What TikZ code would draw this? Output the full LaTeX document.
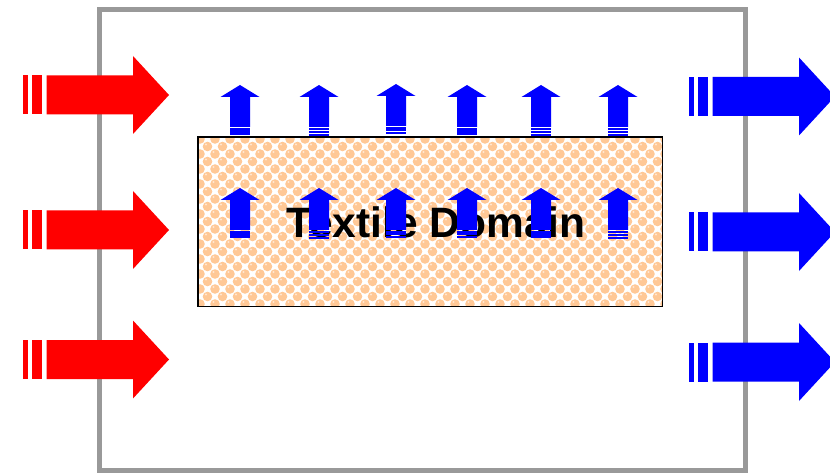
\documentclass[tikz,border=0pt]{standalone}
\usepackage{fontspec}
\setmainfont{Liberation Sans}
\definecolor{framegray}{HTML}{999999}
\definecolor{peach}{HTML}{FFC896}
\definecolor{arrred}{HTML}{FF0000}
\definecolor{arrblue}{HTML}{0000FF}
\tikzset{
  harrow/.pic={
    \fill[#1] (0,-19.5) rectangle (5,19.5);
    \fill[#1] (9,-19.5) rectangle (19,19.5);
    \fill[#1] (23.5,-19.5) -- (110,-19.5) -- (110,-39) -- (146,0) -- (110,39) -- (110,19.5) -- (23.5,19.5) -- cycle;
  },
  uhead/.pic={
    \fill[arrblue] (0,0) -- (19.5,12) -- (10,12) -- (10,42) -- (-10,42) -- (-10,12) -- (-19.5,12) -- cycle;
  },
  uarrowA/.pic={
    \pic {uhead};
    \fill[arrblue] (-10,43.5) rectangle (10,50);
  },
  uarrowB/.pic={
    \pic {uhead};
    \fill[arrblue] (-10,43) rectangle (10,47);
    \fill[arrblue] (-10,48) rectangle (10,50.5);
  },
  uarrowC/.pic={
    \pic {uhead};
    \fill[arrblue] (-10,43) rectangle (10,45.5);
    \fill[arrblue] (-10,46.5) rectangle (10,48.5);
    \fill[arrblue] (-10,49.5) rectangle (10,51.5);
  },
  domainbox/.style={draw=black, line width=1.5pt},
  domaintext/.style={font=\bfseries\fontsize{42.5}{48}\selectfont, text=black, inner sep=0pt, anchor=base},
}
\begin{document}
\begin{tikzpicture}[x=1pt,y=-1pt]
\useasboundingbox (0,0) rectangle (830,473);
% frame
\draw[framegray, line width=5pt] (99.5,9.5) rectangle (745.5,470.5);
% domain with pattern
\begin{scope}
  \clip (198,137) rectangle (662,306);
  \fill[white] (198,137) rectangle (662,306);
  \foreach \j in {0,...,23}{
    \foreach \i in {0,...,31}{
      \pgfmathsetmacro{\xx}{200+15*\i+7.5*mod(\j,2)}
      \pgfmathsetmacro{\yy}{139+7.5*\j}
      \fill[peach] (\xx,\yy) circle[radius=4.8];
      \fill[peach!45!white] (\xx-1.5,\yy-2) circle[radius=1.2];
    }
  }
\end{scope}
\node[draw=none, minimum width=464pt, minimum height=169pt, anchor=north west] (domain) at (198,137) {};
\draw[domainbox] (domain.north west) rectangle (domain.south east);
\node[domaintext] (label) at (436,238) {Textile Domain};
% left red arrows
\pic at (23,95) {harrow=arrred};
\pic at (23,230) {harrow=arrred};
\pic at (23,359.5) {harrow=arrred};
% right blue arrows
\pic at (689,96.5) {harrow=arrblue};
\pic at (689,232) {harrow=arrblue};
\pic at (689,362) {harrow=arrblue};
% upper row of up arrows
\pic at (240,85) {uarrowA};
\pic at (319,85) {uarrowC};
\pic at (396,84) {uarrowB};
\pic at (467,85) {uarrowA};
\pic at (541,85) {uarrowC};
\pic at (618,85) {uarrowC};
% lower row of up arrows
\pic at (240,188) {uarrowA};
\pic at (319,188) {uarrowC};
\pic at (396,188) {uarrowB};
\pic at (467,188) {uarrowB};
\pic at (541,188) {uarrowA};
\pic at (618,188) {uarrowC};
\end{tikzpicture}
\end{document}
